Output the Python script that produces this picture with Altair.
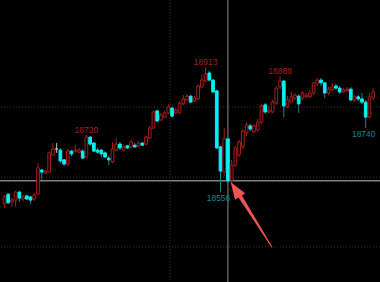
import altair as alt
import pandas as pd

# ---- candle data (index = bar number) ----
opens = [18523, 18551, 18529, 18534, 18557, 18537, 18546, 18543, 18537, 18551,
         18620, 18611, 18614, 18663, 18680, 18677, 18649, 18637, 18674, 18674,
         18671, 18674, 18657, 18714, 18697, 18677, 18677, 18669, 18654, 18643,
         18677, 18694, 18677, 18689, 18686, 18691, 18689, 18697, 18694, 18711,
         18740, 18789, 18763, 18771, 18783, 18797, 18783, 18783, 18809, 18820,
         18831, 18817, 18823, 18857, 18874, 18897, 18877, 18846, 18686, 18614,
         18709, 18591, 18634, 18663, 18686, 18726, 18746, 18729, 18734, 18757,
         18806, 18786, 18786, 18811, 18857, 18874, 18800, 18814, 18826, 18831,
         18826, 18829, 18829, 18840, 18866, 18877, 18869, 18840, 18849, 18860,
         18854, 18843, 18846, 18851, 18820, 18829, 18823, 18814, 18771, 18826]
closes = [18543, 18526, 18534, 18557, 18540, 18543, 18537, 18534, 18549, 18626,
          18614, 18617, 18669, 18680, 18680, 18646, 18637, 18674, 18666, 18677,
          18677, 18654, 18714, 18694, 18674, 18671, 18666, 18657, 18649, 18680,
          18694, 18683, 18686, 18683, 18700, 18686, 18697, 18691, 18714, 18740,
          18786, 18760, 18777, 18783, 18800, 18774, 18791, 18811, 18823, 18831,
          18814, 18826, 18860, 18877, 18894, 18877, 18843, 18683, 18617, 18709,
          18589, 18634, 18683, 18700, 18731, 18749, 18737, 18746, 18757, 18803,
          18786, 18791, 18814, 18854, 18874, 18803, 18820, 18829, 18834, 18809,
          18840, 18834, 18840, 18869, 18877, 18869, 18840, 18851, 18857, 18854,
          18843, 18849, 18851, 18820, 18829, 18823, 18814, 18771, 18829, 18843]
highs = [18549, 18554, 18540, 18560, 18560, 18549, 18549, 18546, 18554, 18640,
         18623, 18620, 18671, 18697, 18697, 18683, 18651, 18680, 18677, 18691,
         18683, 18680, 18720, 18717, 18700, 18683, 18680, 18674, 18660, 18700,
         18711, 18700, 18691, 18691, 18706, 18697, 18703, 18700, 18717, 18746,
         18789, 18791, 18783, 18789, 18809, 18800, 18797, 18817, 18834, 18837,
         18834, 18831, 18863, 18894, 18913, 18903, 18880, 18849, 18689, 18740,
         18711, 18649, 18689, 18706, 18737, 18757, 18751, 18751, 18766, 18809,
         18811, 18803, 18820, 18860, 18888, 18877, 18831, 18843, 18840, 18837,
         18846, 18840, 18849, 18871, 18883, 18883, 18871, 18857, 18869, 18866,
         18860, 18854, 18857, 18857, 18834, 18834, 18840, 18820, 18840, 18854]
lows = [18511, 18523, 18514, 18514, 18529, 18531, 18534, 18523, 18531, 18549,
        18586, 18609, 18611, 18660, 18669, 18640, 18631, 18631, 18660, 18669,
        18666, 18651, 18654, 18689, 18671, 18666, 18657, 18654, 18634, 18640,
        18674, 18677, 18674, 18680, 18683, 18683, 18686, 18689, 18691, 18709,
        18737, 18757, 18760, 18769, 18780, 18771, 18780, 18780, 18806, 18817,
        18811, 18814, 18820, 18854, 18871, 18874, 18840, 18680, 18556, 18603,
        18583, 18583, 18629, 18657, 18680, 18717, 18731, 18726, 18731, 18751,
        18780, 18783, 18783, 18806, 18851, 18771, 18797, 18811, 18820, 18783,
        18820, 18826, 18826, 18834, 18860, 18860, 18826, 18834, 18846, 18849,
        18837, 18840, 18843, 18817, 18814, 18817, 18809, 18740, 18769, 18820]

# ---- annotations ----
label_texts = ["18720", "18913", "18888", "18556", "18740"]
label_bars = [22, 54, 74, 58, 97]
label_sides = ["high", "high", "high", "low", "low"]

grid_prices = [18800, 18600, 18400]
grid_bars = [44.5]
cross_bar = [60]
cross_price = [18589]

arrow_bar = [71.8, 62.9]        # tail -> head base
arrow_price = [18400, 18551]
arrow_head_bar = [62.0]
arrow_head_price = [18565]

# ---- tables ----
n = len(opens)
candles = pd.DataFrame({
    "k": list(range(n)),
    "open": opens, "close": closes, "high": highs, "low": lows,
})
candles["dir"] = ["up" if c > o else ("down" if c < o else "flat")
                  for o, c in zip(opens, closes)]

lab = pd.DataFrame({"text": label_texts, "k": label_bars, "side": label_sides})
lab["price"] = [highs[k] if s == "high" else lows[k] for k, s in zip(label_bars, label_sides)]
lab["col"] = ["up" if s == "high" else "down" for s in label_sides]
lab_hi = lab[lab.side == "high"]
lab_lo = lab[lab.side == "low"]

arrow = pd.DataFrame({"k": arrow_bar, "p": arrow_price, "t": [0, 1]})
head = pd.DataFrame({"k": arrow_head_bar, "p": arrow_head_price})

xs = alt.Scale(domain=[0.137, 99.49], nice=False, zero=False)
ys = alt.Scale(domain=[18300, 19105.7], nice=False, zero=False)

dirs = ["up", "down", "flat"]
wick_c = alt.Scale(domain=dirs, range=["#a81d1d", "#12878c", "#c0c0c0"])
fill_c = alt.Scale(domain=dirs, range=["#000000", "#00f2f4", "#c0c0c0"])
stroke_c = alt.Scale(domain=dirs, range=["#a81d1d", "#00f2f4", "#c0c0c0"])

X = lambda f: alt.X(f, scale=xs, axis=None)
Y = lambda f: alt.Y(f, scale=ys, axis=None)

hgrid = alt.Chart(pd.DataFrame({"p": grid_prices})).mark_rule(
    color="#333333", strokeDash=[1, 2], strokeWidth=1).encode(y=Y("p:Q"))
vgrid = alt.Chart(pd.DataFrame({"k": grid_bars})).mark_rule(
    color="#333333", strokeDash=[1, 2], strokeWidth=1).encode(x=X("k:Q"))
hcross = alt.Chart(pd.DataFrame({"p": cross_price})).mark_rule(
    color="#808080", strokeWidth=1.5).encode(y=Y("p:Q"))
vcross = alt.Chart(pd.DataFrame({"k": cross_bar})).mark_rule(
    color="#8a8a8a", strokeWidth=1).encode(x=X("k:Q"))

wicks = alt.Chart(candles).mark_rule(strokeWidth=1).encode(
    x=X("k:Q"), y=Y("low:Q"), y2="high:Q",
    color=alt.Color("dir:N", scale=wick_c, legend=None))
bodies = alt.Chart(candles).mark_bar(size=2.7, strokeWidth=1).encode(
    x=X("k:Q"), y=Y("open:Q"), y2="close:Q",
    fill=alt.Fill("dir:N", scale=fill_c, legend=None),
    stroke=alt.Stroke("dir:N", scale=stroke_c, legend=None))

txt_c = alt.Scale(domain=["up", "down"], range=["#f04444", "#2cc6d2"])
t_hi = alt.Chart(lab_hi).mark_text(
    font="Liberation Sans", fontSize=8.5, baseline="alphabetic", dy=-2).encode(
    x=X("k:Q"), y=Y("price:Q"), text="text:N",
    color=alt.Color("col:N", scale=txt_c, legend=None))
t_lo = alt.Chart(lab_lo).mark_text(
    font="Liberation Sans", fontSize=8.5, baseline="top", dy=2, dx=-2).encode(
    x=X("k:Q"), y=Y("price:Q"), text="text:N",
    color=alt.Color("col:N", scale=txt_c, legend=None))

shaft = alt.Chart(arrow).mark_trail(color="#f05454").encode(
    x=X("k:Q"), y=Y("p:Q"), order="t:Q",
    size=alt.Size("t:Q", scale=alt.Scale(domain=[0, 1], range=[1, 4]), legend=None))
tip = alt.Chart(head).mark_point(
    shape="M0,-1L0.7,1L-0.7,1Z", filled=True, fill="#f05454", opacity=1,
    size=300, angle=327, strokeWidth=0).encode(x=X("k:Q"), y=Y("p:Q"))

chart = alt.layer(hgrid, vgrid, hcross, vcross, wicks, bodies, t_hi, t_lo, shaft, tip).properties(
    width=380, height=282, padding=0, autosize=alt.AutoSizeParams(type="none"),
    background="#000000",
).configure_view(stroke=None)

chart.save("out.html", embed_options={"renderer": "svg", "actions": False})
